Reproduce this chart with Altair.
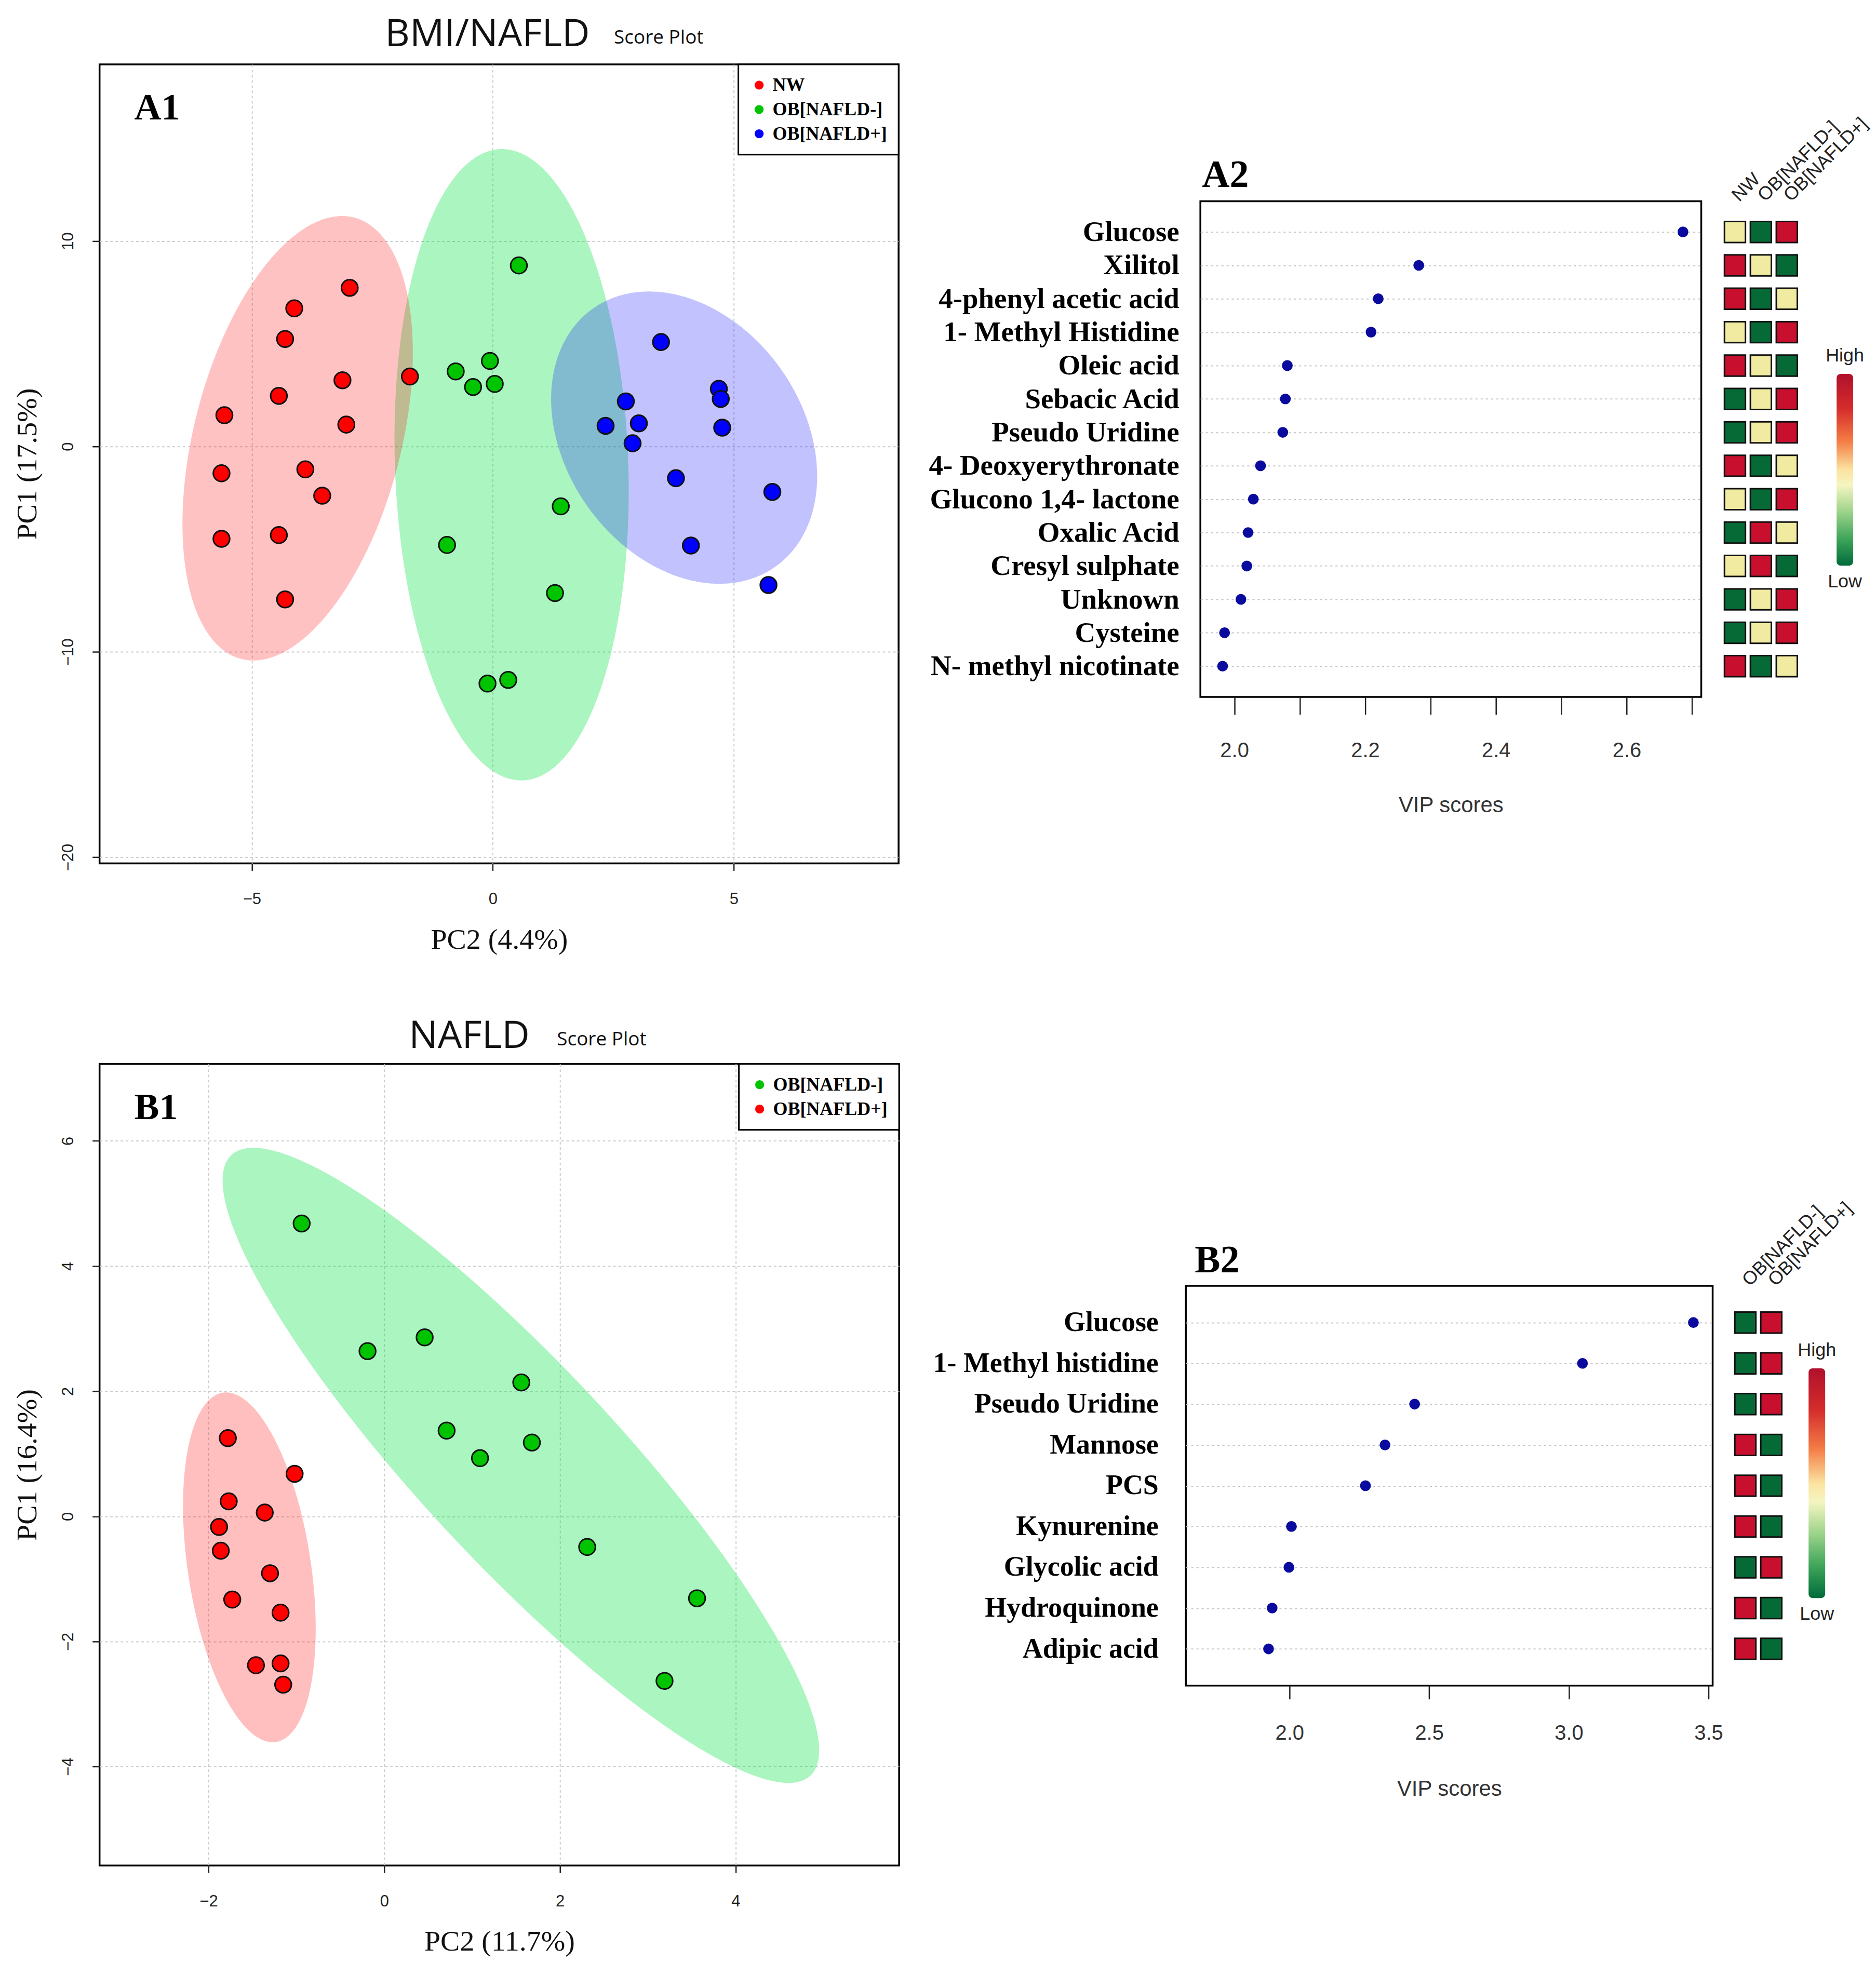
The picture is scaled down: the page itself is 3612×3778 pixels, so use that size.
import numpy as np
import pandas as pd
import altair as alt

SERIF = "Liberation Serif"
SANS = "Liberation Sans"
HEAD = "Open Sans"

# ---------------- A1 : BMI/NAFLD score plot ----------------
a1_groups = ["NW", "OB[NAFLD-]", "OB[NAFLD+]"]
a1_colors = ["#FF0000", "#00C400", "#0000FF"]
a1_nw_x = [-2.97, -4.12, -4.31, -3.12, -1.72, -4.44, -5.57, -3.04, -5.63, -3.89, -3.54, -5.63, -4.44, -4.31]
a1_nw_y = [7.72, 6.72, 5.23, 3.22, 3.40, 2.46, 1.52, 1.06, -1.31, -1.12, -2.40, -4.50, -4.32, -7.45]
a1_obn_x = [0.54, -0.77, -0.06, -0.41, 0.04, 1.41, -0.95, 1.29, -0.11, 0.32]
a1_obn_y = [8.81, 3.65, 4.16, 2.89, 3.04, -2.92, -4.80, -7.14, -11.55, -11.37]
a1_obp_x = [3.49, 2.76, 4.69, 4.73, 2.34, 3.03, 4.76, 2.90, 3.80, 5.80, 4.11, 5.72]
a1_obp_y = [5.08, 2.19, 2.80, 2.31, 1.00, 1.12, 0.91, 0.15, -1.55, -2.22, -4.83, -6.75]
# confidence ellipses: centre, half-width, half-height, x-offset of the topmost point
a1_ell_group = ["OB[NAFLD-]", "NW", "OB[NAFLD+]"]
a1_ell_cx = [0.39, -4.05, 3.97]
a1_ell_cy = [-0.895, 0.395, 0.425]
a1_ell_hw = [2.43, 2.39, 2.76]
a1_ell_hh = [15.37, 10.82, 7.115]
a1_ell_top = [-0.20, 0.92, -0.73]
a1_x_ticks = [-5, 0, 5]
a1_y_ticks = [-20, -10, 0, 10]

# ---------------- B1 : NAFLD score plot ----------------
b1_groups = ["OB[NAFLD-]", "OB[NAFLD+]"]
b1_colors = ["#00C400", "#FF0000"]
b1_obn_x = [-0.94, -0.19, 0.46, 1.56, 0.71, 1.68, 1.09, 2.31, 3.56, 3.19]
b1_obn_y = [4.68, 2.64, 2.86, 2.14, 1.37, 1.18, 0.93, -0.49, -1.31, -2.63]
b1_obp_x = [-1.78, -1.02, -1.77, -1.36, -1.88, -1.86, -1.30, -1.73, -1.18, -1.46, -1.18, -1.15]
b1_obp_y = [1.25, 0.68, 0.24, 0.06, -0.17, -0.55, -0.91, -1.33, -1.54, -2.38, -2.35, -2.69]
b1_ell_group = ["OB[NAFLD-]", "OB[NAFLD+]"]
b1_ell_cx = [1.555, -1.535]
b1_ell_cy = [0.815, -0.815]
b1_ell_hw = [3.395, 0.755]
b1_ell_hh = [5.075, 2.795]
b1_ell_top = [-3.045, -0.265]
b1_x_ticks = [-2, 0, 2, 4]
b1_y_ticks = [-4, -2, 0, 2, 4, 6]

# ---------------- A2 : VIP scores ----------------
a2_names = ["Glucose", "Xilitol", "4-phenyl acetic acid", "1- Methyl Histidine", "Oleic acid",
            "Sebacic Acid", "Pseudo Uridine", "4- Deoxyerythronate", "Glucono 1,4- lactone",
            "Oxalic Acid", "Cresyl sulphate", "Unknown", "Cysteine", "N- methyl nicotinate"]
a2_vip = [2.686, 2.282, 2.220, 2.209, 2.081, 2.078, 2.074, 2.040, 2.029, 2.021, 2.019, 2.010, 1.985, 1.982]
a2_cols = ["NW", "OB[NAFLD-]", "OB[NAFLD+]"]
# relative level: 0 = low (green), 0.5 = middle (yellow), 1 = high (red)
a2_nw = [0.5, 1, 1, 0.5, 1, 0, 0, 1, 0.5, 0, 0.5, 0, 0, 1]
a2_obn = [0, 0.5, 0, 0, 0.5, 0.5, 0.5, 0, 0, 1, 1, 0.5, 0.5, 0]
a2_obp = [1, 0, 0.5, 1, 0, 1, 1, 0.5, 1, 0.5, 0, 1, 1, 0.5]
a2_x_ticks = [2.0, 2.1, 2.2, 2.3, 2.4, 2.5, 2.6, 2.7]

# ---------------- B2 : VIP scores ----------------
b2_names = ["Glucose", "1- Methyl histidine", "Pseudo Uridine", "Mannose", "PCS",
            "Kynurenine", "Glycolic acid", "Hydroquinone", "Adipic acid"]
b2_vip = [3.446, 3.049, 2.448, 2.342, 2.272, 2.007, 1.998, 1.938, 1.925]
b2_cols = ["OB[NAFLD-]", "OB[NAFLD+]"]
b2_obn = [0, 0, 0, 1, 1, 1, 0, 1, 1]
b2_obp = [1, 1, 1, 0, 0, 0, 1, 0, 0]
b2_x_ticks = [2.0, 2.5, 3.0, 3.5]

HEAT_LOW, HEAT_MID, HEAT_HIGH = "#066A37", "#F0EBA0", "#C8102E"
ramp_offsets = [0.0, 0.18, 0.35, 0.5, 0.58, 0.72, 0.86, 1.0]
ramp_colors = ["#B0102C", "#D42C2C", "#F47C45", "#FBE3A0", "#F5F5C2", "#9CD38A", "#3EA55A", "#006B3A"]
RAMP = alt.LinearGradient(
    gradient="linear",
    stops=[alt.GradientStop(offset=o, color=c) for o, c in zip(ramp_offsets, ramp_colors)],
    x1=0, x2=0, y1=0, y2=1)


def ellipse_frame(cx, cy, hw, hh, top, n=241):
    th = np.linspace(0.0, np.pi, n)
    dx = -hw * np.cos(th)
    q = np.sqrt(hw ** 2 - top ** 2)
    r = np.sqrt(np.clip(hw ** 2 - dx ** 2, 0, None))
    return pd.DataFrame({"ex": cx + dx,
                         "elo": cy + hh * (top * dx - q * r) / hw ** 2,
                         "ehi": cy + hh * (top * dx + q * r) / hw ** 2})


def score_panel(xs_list, ys_list, groups, colors, ells, fills, xdom, ydom, xticks, yticks,
                xtitle, ytitle, tag, head, w, h, head_x, sub_x, head_y, sub_y):
    xs = alt.Scale(domain=xdom, nice=False, zero=False)
    ys = alt.Scale(domain=ydom, nice=False, zero=False)
    common = dict(grid=True, gridDash=[5, 5], gridColor="#cccccc", gridWidth=2, domain=False,
                  tickSize=14, tickWidth=2.5, tickColor="#222222", labelFont=SANS,
                  labelFontSize=31, labelColor="#222222", titleFont=SERIF, titleFontSize=56,
                  titleFontWeight="normal", titleColor="#111111")
    xax = alt.Axis(values=xticks, title=xtitle, labelPadding=40, titlePadding=36, **common)
    yax = alt.Axis(values=yticks, title=ytitle, labelAngle=-90, labelAlign="center",
                   labelBaseline="bottom", labelPadding=30, titlePadding=34, **common)
    layers = []
    for g, cx, cy, hw, hh, tp in ells:
        fill, op = fills[g]
        df = ellipse_frame(cx, cy, hw, hh, tp)
        layers.append(alt.Chart(df).mark_area(orient="vertical", fill=fill, fillOpacity=op).encode(
            x=alt.X("ex:Q", scale=xs, axis=xax),
            y=alt.Y("elo:Q", scale=ys, axis=yax),
            y2="ehi:Q"))
    rows = []
    for g, xv, yv in zip(groups, xs_list, ys_list):
        rows += [{"px": a, "py": b, "grp": g} for a, b in zip(xv, yv)]
    pts = pd.DataFrame(rows)
    layers.append(alt.Chart(pts).mark_circle(size=1000, stroke="#111111", strokeWidth=3, opacity=1).encode(
        x=alt.X("px:Q", scale=xs, axis=xax),
        y=alt.Y("py:Q", scale=ys, axis=yax),
        color=alt.Color("grp:N", scale=alt.Scale(domain=groups, range=colors),
                        legend=alt.Legend(title=None, orient="top-right", offset=0, padding=22,
                                          rowPadding=11, labelFont=SERIF, labelFontWeight="bold",
                                          labelFontSize=36, labelColor="black", labelOffset=8,
                                          labelLimit=0, symbolType="circle", symbolSize=300,
                                          symbolStrokeWidth=0, strokeColor="black",
                                          fillColor="white"))))
    layers.append(alt.Chart(pd.DataFrame({"t": [tag]})).mark_text(
        align="left", baseline="alphabetic", font=SERIF, fontWeight="bold", fontSize=72,
        color="black").encode(text="t:N", x=alt.value(67), y=alt.value(106)))
    layers.append(alt.Chart(pd.DataFrame({"t": [head]})).mark_text(
        align="center", baseline="alphabetic", font=HEAD, fontSize=74,
        color="#111111").encode(text="t:N", x=alt.value(head_x), y=alt.value(head_y)))
    layers.append(alt.Chart(pd.DataFrame({"t": ["Score Plot"]})).mark_text(
        align="left", baseline="alphabetic", font=HEAD, fontSize=37,
        color="#111111").encode(text="t:N", x=alt.value(sub_x), y=alt.value(sub_y)))
    return alt.layer(*layers).properties(width=w, height=h)


def vip_panel(names, vip, xdom, xticks, label_expr, w, h, pad, lab_pad, lab_fs, tick_len,
              x_lab_pad, x_title_pad, tag, tag_dx, tag_offset):
    df = pd.DataFrame({"name": names, "vip": vip})
    return alt.Chart(df).mark_circle(size=430, color="#0A0A9E", opacity=1).encode(
        x=alt.X("vip:Q", scale=alt.Scale(domain=xdom, nice=False, zero=False),
                axis=alt.Axis(values=xticks, labelExpr=label_expr, grid=False, domain=False,
                              tickSize=tick_len, tickWidth=2.5, tickColor="#222222",
                              labelFont=SANS, labelFontSize=40, labelColor="#333333",
                              labelPadding=x_lab_pad, title="VIP scores", titleFont=SANS,
                              titleFontSize=42, titleFontWeight="normal", titleColor="#333333",
                              titlePadding=x_title_pad)),
        y=alt.Y("name:N", scale=alt.Scale(type="point", domain=names, padding=pad),
                axis=alt.Axis(title=None, ticks=False, domain=False, grid=True, gridDash=[4, 6],
                              gridColor="#c4c4c4", gridWidth=2, labelFont=SERIF,
                              labelFontWeight="bold", labelFontSize=lab_fs, labelColor="black",
                              labelPadding=lab_pad, labelLimit=0))
    ).properties(width=w, height=h,
                 title=alt.TitleParams(tag, anchor="start", frame="group", font=SERIF,
                                       fontWeight="bold", fontSize=74, color="black",
                                       offset=tag_offset, dx=tag_dx))


def heat_panel(names, cols, levels, w, h, pad):
    rows = [{"name": n, "col": c, "lvl": v} for c, lv in zip(cols, levels) for n, v in zip(names, lv)]
    return alt.Chart(pd.DataFrame(rows)).mark_square(size=1640, stroke="#111111", strokeWidth=3,
                                                      opacity=1).encode(
        x=alt.X("col:N", scale=alt.Scale(type="point", domain=cols, padding=0.5),
                axis=alt.Axis(orient="top", title=None, ticks=False, domain=False, labelAngle=-45,
                              labelAlign="left", labelBaseline="middle", labelPadding=6,
                              labelFont=SANS, labelFontSize=36, labelColor="#222222", labelLimit=0)),
        y=alt.Y("name:N", scale=alt.Scale(type="point", domain=names, padding=pad), axis=None),
        color=alt.Color("lvl:Q", scale=alt.Scale(domain=[0, 0.5, 1], range=[HEAT_LOW, HEAT_MID, HEAT_HIGH]),
                        legend=None)
    ).properties(width=w, height=h, view=alt.ViewBackground(stroke="transparent"))


def ramp_panel(w, h, xdom, ydom):
    xs = alt.Scale(domain=xdom, nice=False, zero=False)
    ys = alt.Scale(domain=ydom, nice=False, zero=False)
    bar = alt.Chart(pd.DataFrame({"x0": [0], "x1": [1], "y0": [0], "y1": [1]})).mark_rect(
        fill=RAMP, cornerRadius=8).encode(
        x=alt.X("x0:Q", scale=xs, axis=None), x2="x1:Q",
        y=alt.Y("y0:Q", scale=ys, axis=None), y2="y1:Q")
    hi = alt.Chart(pd.DataFrame({"x": [0.5], "y": [1], "t": ["High"]})).mark_text(
        baseline="bottom", dy=-16, font=SANS, fontSize=36, color="#222222").encode(
        x=alt.X("x:Q", scale=xs, axis=None), y=alt.Y("y:Q", scale=ys, axis=None), text="t:N")
    lo = alt.Chart(pd.DataFrame({"x": [0.5], "y": [0], "t": ["Low"]})).mark_text(
        baseline="top", dy=14, font=SANS, fontSize=36, color="#222222").encode(
        x=alt.X("x:Q", scale=xs, axis=None), y=alt.Y("y:Q", scale=ys, axis=None), text="t:N")
    return alt.layer(bar, hi, lo).properties(width=w, height=h,
                                             view=alt.ViewBackground(stroke="transparent"))


def spacer(h):
    return alt.Chart(pd.DataFrame({"s": [0]})).mark_point(opacity=0).encode(
        x=alt.value(0), y=alt.value(0)).properties(width=1, height=h,
                                                  view=alt.ViewBackground(stroke="transparent"))


a1_fills = {"NW": ("#FF0000", 0.24), "OB[NAFLD-]": ("#00E040", 0.33), "OB[NAFLD+]": ("#0000FF", 0.24)}
b1_fills = {"OB[NAFLD+]": ("#FF0000", 0.25), "OB[NAFLD-]": ("#00E040", 0.33)}

a1 = score_panel([a1_nw_x, a1_obn_x, a1_obp_x], [a1_nw_y, a1_obn_y, a1_obp_y], a1_groups, a1_colors,
                 list(zip(a1_ell_group, a1_ell_cx, a1_ell_cy, a1_ell_hw, a1_ell_hh, a1_ell_top)),
                 a1_fills, [-8.16, 8.42], [-20.3, 18.6], a1_x_ticks, a1_y_ticks,
                 "PC2 (4.4%)", "PC1 (17.5%)", "A1", "BMI/NAFLD", 1541, 1541, 748, 992, -35, -40)

b1 = score_panel([b1_obn_x, b1_obp_x], [b1_obn_y, b1_obp_y], b1_groups, b1_colors,
                 list(zip(b1_ell_group, b1_ell_cx, b1_ell_cy, b1_ell_hw, b1_ell_hh, b1_ell_top)),
                 b1_fills, [-3.24, 5.86], [-5.58, 7.23], b1_x_ticks, b1_y_ticks,
                 "PC2 (11.7%)", "PC1 (16.4%)", "B1", "NAFLD", 1542, 1546, 713, 882, -31, -36)

a2_dot = vip_panel(a2_names, a2_vip, [1.948, 2.714], a2_x_ticks,
                   "round(datum.value * 10) % 2 == 0 ? format(datum.value, '.1f') : ''",
                   966, 956, 0.92, 41, 55, 34, 50, 65, "A2", 3, 12)
a2_heat = heat_panel(a2_names, a2_cols, [a2_nw, a2_obn, a2_obp], 150, 956, 0.92)
a2_ramp = ramp_panel(63, 956, [-0.97, 1.0], [-0.684, 1.9])

b2_dot = vip_panel(b2_names, b2_vip, [1.629, 3.515], b2_x_ticks, "format(datum.value, '.1f')",
                   1016, 771, 0.9, 53, 54, 26, 46, 67, "B2", 17, 10)
b2_heat = heat_panel(b2_names, b2_cols, [b2_obn, b2_obp], 100, 771, 0.9)
b2_ramp = ramp_panel(41, 771, [-0.28, 1.0], [-0.381, 1.359])

a2_group = alt.vconcat(spacer(92), alt.hconcat(a2_dot, a2_heat, a2_ramp, spacing=40, bounds="flush"),
                       spacing=0)
b2_group = alt.vconcat(spacer(256), alt.hconcat(b2_dot, b2_heat, b2_ramp, spacing=38, bounds="flush"),
                       spacing=0)

row1 = alt.hconcat(a1, a2_group, spacing=52)
row2 = alt.hconcat(b1, b2_group, spacing=59)

chart = alt.vconcat(row1, row2, spacing=118).properties(
    padding={"left": 15, "top": 17, "right": 0, "bottom": 0}, background="white"
).configure_view(stroke="black", strokeWidth=3.5).configure_legend(strokeWidth=3)

chart.save("out.html", embed_options={"renderer": "svg", "actions": False})
